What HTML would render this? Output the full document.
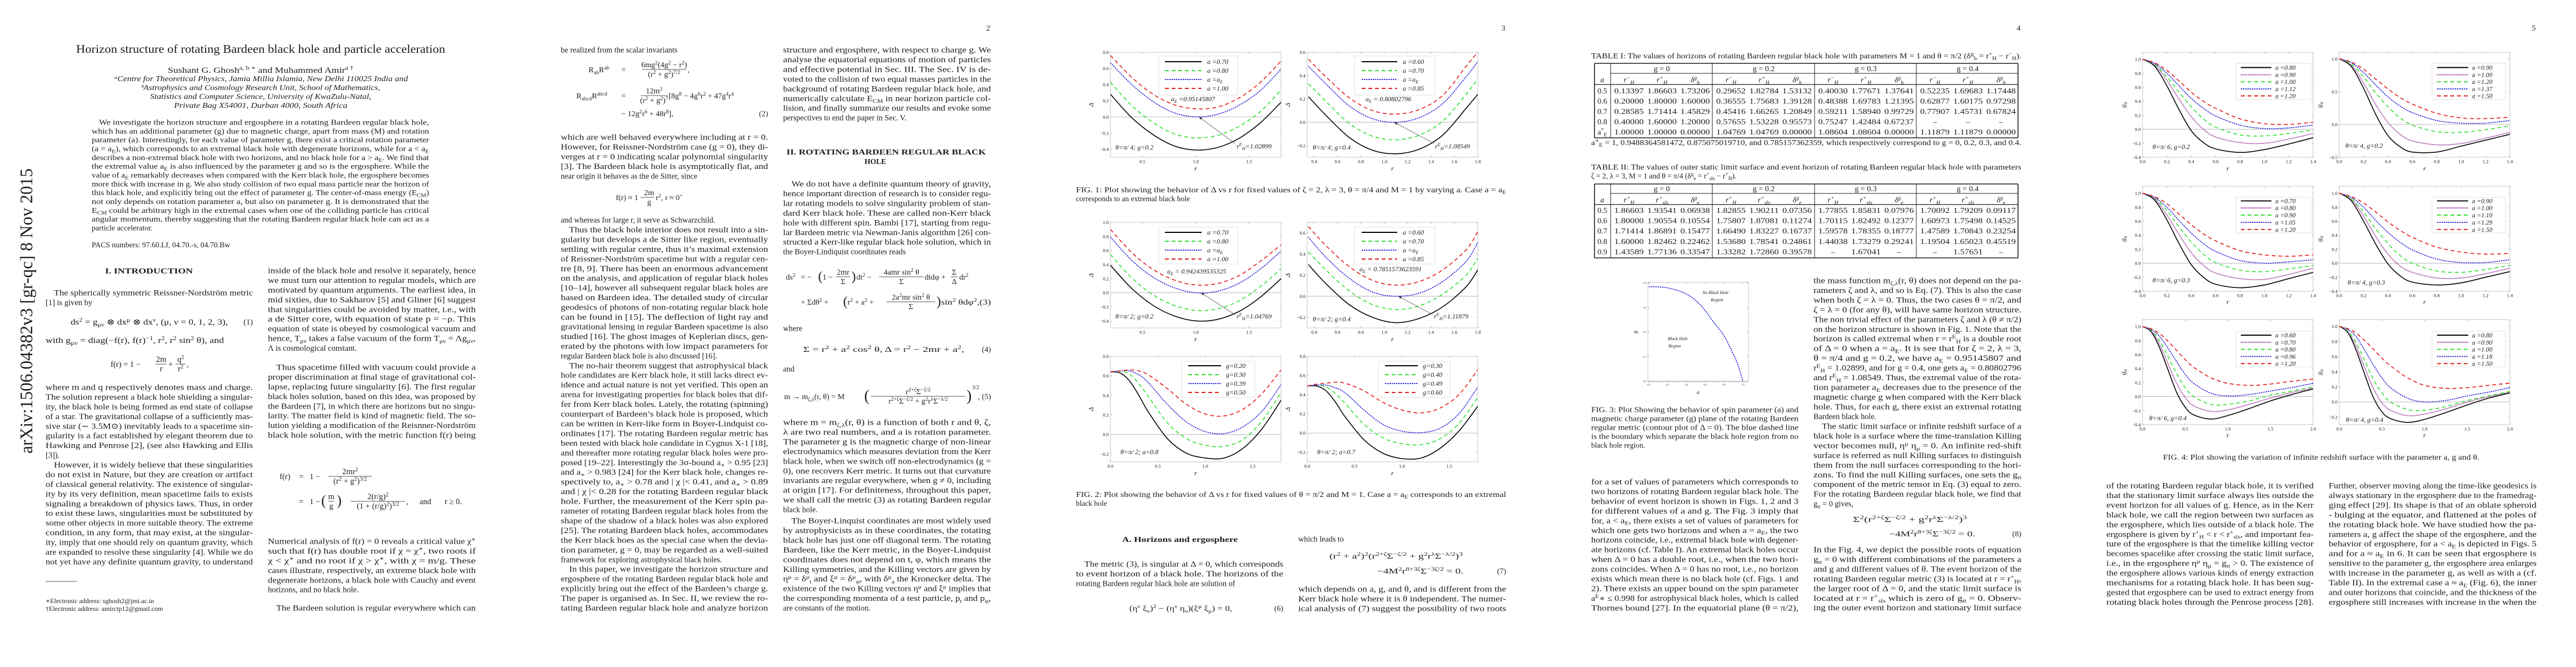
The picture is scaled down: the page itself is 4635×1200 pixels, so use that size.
<!DOCTYPE html>
<html><head><meta charset="utf-8">
<style>
html,body{margin:0;padding:0;background:#fff;}
svg{display:block;}
text{font-family:"Liberation Serif","DejaVu Serif",serif;fill:#1c1c1c;}
</style></head>
<body>
<svg id="root" xmlns="http://www.w3.org/2000/svg" width="4635" height="1200" viewBox="0 0 4635 1200"><rect width="4635" height="1200" fill="#fff"/><defs id="defs"></defs></svg>
<script>
// ---------- chart data ----------
// Fig 1 / Fig 2 (page 3): Delta vs r
const f1a_r = [0.2,0.4,0.6,0.8,1.0,1.2,1.4,1.6,1.8];
const f1a_black = [0.28,-0.01,-0.22,-0.36,-0.41,-0.38,-0.27,-0.08,0.18];
const f1a_green = [0.43,0.14,-0.07,-0.21,-0.26,-0.23,-0.12,0.06,0.33];
const f1a_blue = [0.67,0.40,0.19,0.05,0.00,0.03,0.14,0.32,0.59];
const f1a_red = [0.76,0.49,0.28,0.15,0.10,0.12,0.23,0.42,0.69];
const f1a_labels = ['a =0.70','a =0.80','a =a_{E}','a =1.00'];

const f1b_r = [0.35,0.5,0.7,0.9,1.1,1.3,1.5,1.7,1.8];
const f1b_black = [0.22,0.06,-0.13,-0.24,-0.27,-0.23,-0.11,0.12,0.24];
const f1b_green = [0.33,0.18,-0.01,-0.12,-0.15,-0.11,0.01,0.24,0.37];
const f1b_blue = [0.48,0.33,0.14,0.03,0.00,0.04,0.16,0.39,0.52];
const f1b_red = [0.54,0.39,0.21,0.10,0.07,0.11,0.23,0.48,0.60];
const f1b_labels = ['a =0.60','a =0.70','a =a_{E}','a =0.85'];

const f2a_r = [0.2,0.4,0.6,0.8,1.0,1.2,1.4,1.6,1.8];
const f2a_black = [0.39,0.06,-0.18,-0.33,-0.40,-0.38,-0.27,-0.07,0.20];
const f2a_green = [0.54,0.21,-0.03,-0.18,-0.25,-0.23,-0.12,0.08,0.34];
const f2a_blue = [0.79,0.46,0.22,0.07,0.00,0.02,0.13,0.33,0.59];
const f2a_red = [0.90,0.57,0.33,0.18,0.11,0.13,0.24,0.44,0.68];
const f2a_labels = ['a =0.70','a =0.80','a =a_{E}','a =1.00'];

const f2b_r = [0.35,0.5,0.7,0.9,1.1,1.3,1.5,1.7,1.8];
const f2b_black = [0.30,0.12,-0.08,-0.20,-0.25,-0.21,-0.10,0.09,0.25];
const f2b_green = [0.42,0.25,0.05,-0.08,-0.125,-0.09,0.02,0.20,0.36];
const f2b_blue = [0.56,0.37,0.17,0.04,0.00,0.03,0.14,0.33,0.51];
const f2b_red = [0.66,0.48,0.28,0.15,0.105,0.14,0.25,0.44,0.61];
const f2b_labels = ['a =0.60','a =0.70','a =a_{E}','a =0.85'];

const f2c_r = [0,0.1,0.2,0.3,0.4,0.6,0.8,1.0,1.2,1.4,1.6,1.8];
const f2c_black = [0.64,0.63,0.55,0.40,0.23,-0.04,-0.19,-0.24,-0.24,-0.14,0.06,0.35];
const f2c_green = [0.64,0.65,0.62,0.52,0.39,0.12,-0.04,-0.11,-0.12,-0.05,0.14,0.43];
const f2c_blue = [0.64,0.65,0.65,0.61,0.53,0.31,0.13,0.03,0.01,0.08,0.24,0.51];
const f2c_red = [0.64,0.65,0.66,0.65,0.61,0.47,0.31,0.21,0.19,0.26,0.42,0.66];
const f2c_labels = ['g=0.20','g=0.30','g=0.39','g=0.50'];

const f2d_r = [0,0.1,0.2,0.3,0.4,0.6,0.8,1.0,1.2,1.4,1.6,1.8];
const f2d_black = [0.49,0.49,0.44,0.32,0.17,-0.07,-0.21,-0.265,-0.26,-0.16,0.02,0.28];
const f2d_green = [0.49,0.50,0.48,0.41,0.31,0.09,-0.05,-0.11,-0.12,-0.06,0.10,0.37];
const f2d_blue = [0.49,0.50,0.50,0.47,0.42,0.24,0.09,0.02,0.005,0.05,0.20,0.48];
const f2d_red = [0.49,0.51,0.52,0.53,0.52,0.44,0.32,0.24,0.21,0.26,0.40,0.66];
const f2d_labels = ['g=0.30','g=0.40','g=0.49','g=0.60'];

// Fig 3 (page 4): boundary curve g vs a
const f3_a = [0,0.2,0.4,0.55,0.7,0.8,0.9,0.95,1.0];
const f3_g = [0.77,0.76,0.71,0.62,0.47,0.37,0.22,0.13,0.0];

// Fig 4 (page 5): g_tt vs r
const f4_r14 = [0,0.1,0.2,0.3,0.4,0.5,0.6,0.8,1.0,1.2,1.4];
const f4_r20 = [0,0.1,0.2,0.3,0.4,0.5,0.6,0.8,1.0,1.25,1.5,1.75,2.0];
const f4a_black = [1.0,0.90,0.62,0.28,-0.02,-0.19,-0.28,-0.33,-0.29,-0.21,-0.12];
const f4a_purple = [1.0,0.92,0.70,0.43,0.18,0.00,-0.11,-0.19,-0.20,-0.14,-0.06];
const f4a_green = [1.0,0.93,0.75,0.53,0.32,0.15,0.03,-0.08,-0.095,-0.06,-0.01];
const f4a_blue = [1.0,0.94,0.80,0.62,0.44,0.30,0.19,0.06,0.01,0.02,0.06];
const f4a_red = [1.0,0.95,0.84,0.69,0.53,0.40,0.30,0.15,0.08,0.07,0.10];
const f4a_labels = ['a =0.80','a =0.90','a =1.00','a =1.12','a =1.20'];
const f4b_black = [1.0,0.88,0.55,0.15,-0.17,-0.34,-0.42,-0.42,-0.33,-0.24,-0.15];
const f4b_purple = [1.0,0.90,0.63,0.30,0.03,-0.15,-0.25,-0.31,-0.29,-0.21,-0.12];
const f4b_green = [1.0,0.92,0.72,0.48,0.27,0.10,-0.01,-0.11,-0.12,-0.08,-0.02];
const f4b_blue = [1.0,0.94,0.79,0.60,0.42,0.28,0.18,0.06,0.02,0.02,0.06];
const f4b_red = [1.0,0.95,0.84,0.69,0.54,0.41,0.31,0.17,0.10,0.09,0.11];
const f4b_labels = ['a =0.90','a =1.00','a =1.20','a =1.37','a =1.50'];
const f4c_black = [1.0,0.90,0.62,0.28,-0.02,-0.20,-0.30,-0.35,-0.31,-0.22,-0.13];
const f4c_purple = [1.0,0.92,0.69,0.41,0.15,-0.03,-0.14,-0.22,-0.23,-0.16,-0.07];
const f4c_green = [1.0,0.93,0.75,0.52,0.30,0.13,0.01,-0.10,-0.12,-0.08,-0.03];
const f4c_blue = [1.0,0.94,0.80,0.61,0.43,0.28,0.17,0.04,0.00,0.02,0.05];
const f4c_red = [1.0,0.95,0.85,0.70,0.55,0.42,0.32,0.18,0.12,0.10,0.12];
const f4c_labels = ['a =0.70','a =0.80','a =0.90','a =1.05','a =1.20'];
const f4d_black = [1.0,0.89,0.60,0.27,-0.01,-0.18,-0.27,-0.31,-0.28,-0.20,-0.12];
const f4d_purple = [1.0,0.91,0.67,0.38,0.13,-0.04,-0.13,-0.21,-0.21,-0.15,-0.07];
const f4d_green = [1.0,0.92,0.73,0.49,0.28,0.11,0.00,-0.11,-0.13,-0.09,-0.03];
const f4d_blue = [1.0,0.94,0.80,0.61,0.44,0.30,0.19,0.06,0.01,0.01,0.05];
const f4d_red = [1.0,0.95,0.86,0.73,0.59,0.47,0.37,0.23,0.16,0.13,0.14];
const f4d_labels = ['a =0.90','a =1.00','a =1.10','a =1.29','a =1.50'];
const f4e_black = [1.0,0.93,0.70,0.38,0.06,-0.15,-0.26,-0.32,-0.27,-0.17,-0.06,0.03,0.11];
const f4e_purple = [1.0,0.94,0.75,0.47,0.19,-0.01,-0.13,-0.21,-0.19,-0.11,-0.02,0.06,0.12];
const f4e_green = [1.0,0.95,0.80,0.57,0.33,0.13,0.00,-0.11,-0.11,-0.06,0.02,0.08,0.14];
const f4e_blue = [1.0,0.96,0.86,0.69,0.50,0.32,0.19,0.05,0.01,0.03,0.08,0.13,0.19];
const f4e_red = [1.0,0.97,0.90,0.79,0.66,0.53,0.42,0.27,0.19,0.16,0.18,0.22,0.25];
const f4e_labels = ['a =0.60','a =0.70','a =0.80','a =0.96','a =1.20'];
const f4f_black = [1.0,0.92,0.68,0.36,0.06,-0.13,-0.22,-0.27,-0.23,-0.14,-0.04,0.05,0.12];
const f4f_purple = [1.0,0.93,0.73,0.45,0.18,-0.01,-0.11,-0.18,-0.16,-0.09,0.00,0.07,0.13];
const f4f_green = [1.0,0.94,0.78,0.54,0.30,0.12,0.00,-0.10,-0.11,-0.06,0.02,0.08,0.14];
const f4f_blue = [1.0,0.96,0.86,0.68,0.49,0.32,0.19,0.05,0.00,0.02,0.08,0.13,0.19];
const f4f_red = [1.0,0.97,0.91,0.81,0.70,0.58,0.48,0.32,0.22,0.18,0.19,0.22,0.25];
const f4f_labels = ['a =0.80','a =0.90','a =1.00','a =1.18','a =1.50'];

// Tables (page 4)
const t1_a = ['0.5','0.6','0.7','0.8','a^{*}_{E}'];
const t1_rows = [
 ['0.13397','1.86603','1.73206','0.29652','1.82784','1.53132','0.40030','1.77671','1.37641','0.52235','1.69683','1.17448'],
 ['0.20000','1.80000','1.60000','0.36555','1.75683','1.39128','0.48388','1.69783','1.21395','0.62877','1.60175','0.97298'],
 ['0.28585','1.71414','1.45829','0.45416','1.66265','1.20849','0.59211','1.58940','0.99729','0.77907','1.45731','0.67824'],
 ['0.40000','1.60000','1.20000','0.57655','1.53228','0.95573','0.75247','1.42484','0.67237','–','–','–'],
 ['1.00000','1.00000','0.00000','1.04769','1.04769','0.00000','1.08604','1.08604','0.00000','1.11879','1.11879','0.00000']];
const t2_a = ['0.5','0.6','0.7','0.8','0.9'];
const t2_rows = [
 ['1.86603','1.93541','0.06938','1.82855','1.90211','0.07356','1.77855','1.85831','0.07976','1.70092','1.79209','0.09117'],
 ['1.80000','1.90554','0.10554','1.75807','1.87081','0.11274','1.70115','1.82492','0.12377','1.60973','1.75498','0.14525'],
 ['1.71414','1.86891','0.15477','1.66490','1.83227','0.16737','1.59578','1.78355','0.18777','1.47589','1.70843','0.23254'],
 ['1.60000','1.82462','0.22462','1.53680','1.78541','0.24861','1.44038','1.73279','0.29241','1.19504','1.65023','0.45519'],
 ['1.43589','1.77136','0.33547','1.33282','1.72860','0.39578','–','1.67041','–','–','1.57651','–']];

// ---------- helpers ----------
const NS='http://www.w3.org/2000/svg';
const root=document.getElementById('root');
const defs=document.getElementById('defs');
function el(tag,parent){const e=document.createElementNS(NS,tag);(parent||root).appendChild(e);return e;}
function setA(e,o){for(const k in o)e.setAttribute(k,o[k]);return e;}
function rich(t,str,fs){
  const segs=[];let i=0,cur='';
  while(i<str.length){const c=str[i];
    if((c==='^'||c==='_')&&str[i+1]==='{'){if(cur){segs.push([cur,0]);cur='';}const j=str.indexOf('}',i);segs.push([str.slice(i+2,j),c==='^'?-1:1]);i=j+1;}
    else{cur+=c;i++;}}
  if(cur)segs.push([cur,0]);
  let off=0;
  for(const [s,m] of segs){const ts=el('tspan',t);const tg=m===-1?-0.36*fs:(m===1?0.24*fs:0);const dy=tg-off;if(dy)ts.setAttribute('dy',dy.toFixed(1));off=tg;if(m)ts.setAttribute('font-size',(fs*0.7).toFixed(1));ts.textContent=s;}
}
function T(x,y,str,o){o=o||{};const t=el('text',o.parent);const fs=o.fs||14;
  setA(t,{x:x,y:y,'font-size':fs});
  if(o.anchor)t.setAttribute('text-anchor',o.anchor);
  if(o.it)t.setAttribute('font-style','italic');
  if(o.bold)t.setAttribute('font-weight','bold');
  if(o.fill)t.setAttribute('fill',o.fill);
  if(o.len){t.setAttribute('textLength',o.len);t.setAttribute('lengthAdjust','spacingAndGlyphs');}
  if(o.tr)t.setAttribute('transform',o.tr);
  if(str.indexOf('^{')>=0||str.indexOf('_{')>=0)rich(t,str,fs);else t.textContent=str;
  
  
  return t;}
function L(x1,y1,x2,y2,o,parent,name){const l=el('line',parent);setA(l,{x1:x1,y1:y1,x2:x2,y2:y2,stroke:(o&&o.c)||'#1c1c1c','stroke-width':(o&&o.w)||1});if(o&&o.d)l.setAttribute('stroke-dasharray',o.d);
  
  
  return l;}
const STEP=17.45;
function para(ox,x0,w,y0,lines,name,fs,step){fs=fs||14.2;step=step||STEP;
  lines.forEach(function(s,i){let x=ox+x0,len=w,str=s,just=true;
    while(str[0]==='>'||str[0]==='~'){if(str[0]==='>'){x+=15;len-=15;}else just=false;str=str.slice(1);}
    T(x,y0+i*step+4.5,str,{fs:fs,len:just?len:null,name:name});});}
function frac(cx,y,num,den,fs,w,name){fs=fs||14;
  T(cx,y-4,num,{anchor:'middle',fs:fs,name:name+'-numerator'});
  T(cx,y+13,den,{anchor:'middle',fs:fs,name:name+'-denominator'});
  L(cx-w/2,y,cx+w/2,y,{w:0.8},null,name+'-bar');}
function pageNum(ox,n){T(ox+851,55,String(n),{anchor:'middle',fs:14,name:'page-number-'+n});}
function smooth(p){let d='M'+p[0][0].toFixed(1)+','+p[0][1].toFixed(1);
  for(let i=0;i<p.length-1;i++){const p0=p[Math.max(i-1,0)],p1=p[i],p2=p[i+1],p3=p[Math.min(i+2,p.length-1)];
    const c1=[p1[0]+(p2[0]-p0[0])/6,p1[1]+(p2[1]-p0[1])/6],c2=[p2[0]-(p3[0]-p1[0])/6,p2[1]-(p3[1]-p1[1])/6];
    d+=' C'+c1[0].toFixed(1)+','+c1[1].toFixed(1)+' '+c2[0].toFixed(1)+','+c2[1].toFixed(1)+' '+p2[0].toFixed(1)+','+p2[1].toFixed(1);}
  return d;}
const ST={black:{c:'#000',w:1.6,d:''},green:{c:'#2fe02f',w:1.6,d:'7,5'},blue:{c:'#1414dd',w:1.5,d:'2.5,1.5'},red:{c:'#e61a1a',w:1.6,d:'7,5'},purple:{c:'#8a1a8a',w:1.8,d:'1.3,1.3'}};
function fmt(v){return v.toFixed(1).replace('-','−');}
let clipN=0;
function panel(c){
  const g=el('g');
  
  
  const ox=c.ox,X0=ox+c.box[0],X1=ox+c.box[1],Y0=c.box[2],Y1=c.box[3];
  const sx=v=>X0+(v-c.xd[0])/(c.xd[1]-c.xd[0])*(X1-X0);
  const sy=v=>Y1-(v-c.yd[0])/(c.yd[1]-c.yd[0])*(Y1-Y0);
  const fr=el('rect',g);setA(fr,{x:X0,y:Y0,width:X1-X0,height:Y1-Y0,fill:'none',stroke:'#c4c4c4','stroke-width':1});
  
  
  const tf=c.tfs||8.5;
  c.xt.forEach(v=>{const x=sx(v);L(x,Y1,x,Y1-3,{c:'#999',w:0.7},g,'x-tick');L(x,Y0,x,Y0+3,{c:'#999',w:0.7},g,'x-tick');
    T(x,Y1+tf+2,fmt(v),{anchor:'middle',fs:tf,parent:g,fill:'#333',name:'x-tick-label'});});
  c.yt.forEach(v=>{const y=sy(v);L(X0,y,X0+3,y,{c:'#999',w:0.7},g,'y-tick');L(X1,y,X1-3,y,{c:'#999',w:0.7},g,'y-tick');
    T(X0-3,y+tf*0.35,fmt(v),{anchor:'end',fs:tf,parent:g,fill:'#333',name:'y-tick-label'});});
  if(c.yd[0]<0&&c.yd[1]>0)L(X0,sy(0),X1,sy(0),{c:'#b0b0b0',w:0.9},g,'zero-line');
  const cid='clip'+(clipN++);const cp=el('clipPath',defs);cp.setAttribute('id',cid);
  const cr=el('rect',cp);setA(cr,{x:X0,y:Y0,width:X1-X0,height:Y1-Y0});
  const cg=el('g',g);cg.setAttribute('clip-path','url(#'+cid+')');
  
  
  c.series.forEach((s,k)=>{const st=ST[s.st];const p=el('path',cg);
    setA(p,{d:smooth(s.x.map((v,i)=>[sx(v),sy(s.y[i])])),fill:'none',stroke:st.c,'stroke-width':st.w});
    if(st.d)p.setAttribute('stroke-dasharray',st.d);
    
    });
  if(c.leg){const lg=c.leg;const lb=el('g',g);
    
    
    const r=el('rect',lb);setA(r,{x:ox+lg.bx[0],y:lg.by[0],width:lg.bx[1]-lg.bx[0],height:lg.by[1]-lg.by[0],fill:'#fff',stroke:'#e2e2e2','stroke-width':1});
    lg.ys.forEach((y,i)=>{const st=ST[c.series[i].st];L(ox+lg.lx[0],y,ox+lg.lx[1],y,{c:st.c,w:st.w+0.3,d:st.d},lb,'legend-swatch');
      T(ox+lg.tx,y+4,lg.labels[i],{fs:lg.fs||12,it:true,parent:lb,name:'legend-entry'});});}
  (c.notes||[]).forEach(n=>T(ox+n[0],n[1],n[2],{fs:n[3]||12,it:true,parent:g,name:'plot-annotation'}));
  if(c.arrow){const a=c.arrow;const x1=ox+a[0],y1=a[1],x2=sx(a[2]),y2=sy(a[3]);L(x1,y1,x2,y2,{c:'#555',w:0.8},g,'annotation-arrow');
    const ang=Math.atan2(y2-y1,x2-x1),h=6;const pg=el('polygon',g);
    setA(pg,{points:[[x2,y2],[x2-h*Math.cos(ang-0.35),y2-h*Math.sin(ang-0.35)],[x2-h*Math.cos(ang+0.35),y2-h*Math.sin(ang+0.35)]].map(q=>q[0].toFixed(1)+','+q[1].toFixed(1)).join(' '),fill:'#222'});
    
    }
  if(c.ylab)T(ox+c.ylab[0],(Y0+Y1)/2,c.ylab[1],{fs:c.ylab[2]||12,it:true,anchor:'middle',tr:'rotate(-90 '+(ox+c.ylab[0])+' '+((Y0+Y1)/2)+')',parent:g,name:'y-axis-title'});
  if(c.xlab)T((X0+X1)/2,c.xlab[0],c.xlab[1],{fs:c.xlab[2]||12,it:true,anchor:'middle',parent:g,name:'x-axis-title'});
}
function ser(xs,arr,sts){return arr.map((y,i)=>({x:xs,y:y,st:sts[i]}));}

// ================= PAGE 1 =================
(function(){const ox=0;
T(58,816,'arXiv:1506.04382v3  [gr-qc]  8 Nov 2015',{fs:32,fill:'#9a9a9a',len:513,tr:'rotate(-90 58 816)',name:'arxiv-stamp'});
T(137,95,'Horizon structure of rotating Bardeen black hole and particle acceleration',{fs:21,len:664,name:'paper-title'});
T(302,131,'Sushant G. Ghosh^{a, b ∗} and Muhammed Amir^{a †}',{fs:15,len:334,name:'authors'});
T(205,146,'ᵃCentre for Theoretical Physics, Jamia Millia Islamia, New Delhi 110025 India and',{fs:14,it:true,len:529,name:'affiliation'});
T(254,162,'ᵇAstrophysics and Cosmology Research Unit, School of Mathematics,',{fs:14,it:true,len:430,name:'affiliation'});
T(270,178,'Statistics and Computer Science, University of KwaZulu-Natal,',{fs:14,it:true,len:398,name:'affiliation'});
T(313,194,'Private Bag X54001, Durban 4000, South Africa',{fs:14,it:true,len:312,name:'affiliation'});
const abs=['We investigate the horizon structure and ergosphere in a rotating Bardeen regular black hole,',
'which has an additional parameter (g) due to magnetic charge, apart from mass (M) and rotation',
'parameter (a). Interestingly, for each value of parameter g, there exist a critical rotation parameter',
'(a = a_{E}), which corresponds to an extremal black hole with degenerate horizons, while for a < a_{E}',
'describes a non-extremal black hole with two horizons, and no black hole for a > a_{E}. We find that',
'the extremal value a_{E} is also influenced by the parameter g and so is the ergosphere. While the',
'value of a_{E} remarkably decreases when compared with the Kerr black hole, the ergosphere becomes',
'more thick with increase in g. We also study collision of two equal mass particle near the horizon of',
'this black hole, and explicitly bring out the effect of parameter g. The center-of-mass energy (E_{CM})',
'not only depends on rotation parameter a, but also on parameter g. It is demonstrated that the',
'E_{CM} could be arbitrary high in the extremal cases when one of the colliding particle has critical',
'angular momentum, thereby suggesting that the rotating Bardeen regular black hole can act as a',
'~particle accelerator.'];
abs.forEach((s,i)=>{let x=165,len=607,str=s,j=true;if(i===0){x=178;len=594;}if(str[0]==='~'){j=false;str=str.slice(1);}
  T(x,220+i*15.83+4.5,str,{fs:14,len:j?len:null,name:'abstract-line'});});
T(165,445,'PACS numbers: 97.60.Lf, 04.70.-s, 04.70.Bw',{fs:13.5,len:249,name:'pacs-numbers'});
T(189,492,'I.    INTRODUCTION',{fs:14,bold:true,len:158,name:'section-heading'});
para(ox,82,373,527,['>The spherically symmetric Reissner-Nordström metric','~[1] is given by'],'body-text',14.5,17.44);
T(127,584,'ds^{2} = g_{μν} ⊗ dx^{μ} ⊗ dx^{ν},    (μ, ν = 0, 1, 2, 3),',{fs:14.5,len:283,name:'equation-1'});
T(455,584,'(1)',{fs:14.5,anchor:'end',name:'equation-number'});
T(82,617,'with g_{μν} = diag(−f(r), f(r)^{−1}, r^{2}, r^{2} sin^{2} θ), and',{fs:14.5,len:321,name:'body-text'});
T(199,660,'f(r) = 1 −',{fs:14.5,name:'equation'});frac(290,655,'2m','r',14.5,20,'eq-frac');
T(303,660,'+',{fs:14.5,name:'equation'});frac(325,655,'q^{2}','r^{2}',14.5,18,'eq-frac');T(336,660,',',{fs:14.5,name:'equation'});
para(ox,82,373,697,['where m and q respectively denotes mass and charge.','The solution represent a black hole shielding a singular-','ity, the black hole is being formed as end state of collapse','of a star. The gravitational collapse of a sufficiently mas-','sive star (∼ 3.5M⊙) inevitably leads to a spacetime sin-','gularity is a fact established by elegant theorem due to','Hawking and Penrose [2], (see also Hawking and Ellis','~[3]).','>However, it is widely believe that these singularities','do not exist in Nature, but they are creation or artifact','of classical general relativity. The existence of singular-','ity by its very definition, mean spacetime fails to exists','signaling a breakdown of physics laws. Thus, in order','to exist these laws, singularities must be substituted by','some other objects in more suitable theory. The extreme','condition, in any form, that may exist, at the singular-','ity, imply that one should rely on quantum gravity, which','are expanded to resolve these singularity [4]. While we do','not yet have any definite quantum gravity, to understand'],'body-text',14.5,17.44);
L(82,1046,138,1046,{w:0.8},null,'footnote-rule');
T(82,1085,'∗Electronic address: sghosh2@jmi.ac.in',{fs:12,name:'footnote'});
T(82,1099,'†Electronic address: amirctp12@gmail.com',{fs:12,name:'footnote'});
para(ox,482,374,487,['inside of the black hole and resolve it separately, hence','we must turn our attention to regular models, which are','motivated by quantum arguments. The earliest idea, in','mid sixties, due to Sakharov [5] and Gliner [6] suggest','that singularities could be avoided by matter, i.e., with','a de Sitter core, with equation of state p = −ρ. This','equation of state is obeyed by cosmological vacuum and','hence, T_{μν} takes a false vacuum of the form T_{μν} = Λg_{μν},','~Λ is cosmological constant.'],'body-text',14.5,17.44);
para(ox,482,374,661,['>Thus spacetime filled with vacuum could provide a','proper discrimination at final stage of gravitational col-','lapse, replacing future singularity [6]. The first regular','black holes solution, based on this idea, was proposed by','the Bardeen [7], in which there are horizons but no singu-','larity. The matter field is kind of magnetic field. The so-','lution yielding a modification of the Reisnner-Nordström','black hole solution, with the metric function f(r) being'],'body-text',14.5,17.44);
T(503,862,'f(r)',{fs:14.5,name:'equation'});T(538,862,'=',{fs:14.5,name:'equation'});T(557,862,'1 −',{fs:14.5,name:'equation'});
frac(630,857,'2mr^{2}','(r^{2} + g^{2})^{3/2}',14.5,78,'eq-frac');
T(538,907,'=',{fs:14.5,name:'equation'});T(557,907,'1 −',{fs:14.5,name:'equation'});
T(578,909,'(',{fs:26,name:'equation'});frac(596,902,'m','g',14.5,10,'eq-frac');T(606,909,')',{fs:26,name:'equation'});
frac(680,902,'2(r/g)^{2}','(1 + (r/g)^{2})^{3/2}',14.5,98,'eq-frac');T(731,907,',',{fs:14.5,name:'equation'});
T(755,907,'and',{fs:14.5,name:'equation'});T(800,907,'r ≥ 0.',{fs:14.5,name:'equation'});
para(ox,482,374,974,['Numerical analysis of f(r) = 0 reveals a critical value χ^{∗}','such that f(r) has double root if χ = χ^{∗}, two roots if','χ < χ^{∗} and no root if χ > χ^{∗}, with χ = m/g. These','cases illustrate, respectively, an extreme black hole with','degenerate horizons, a black hole with Cauchy and event','~horizons, and no black hole.'],'body-text',14.5,17.44);
para(ox,482,374,1094,['>The Bardeen solution is regular everywhere which can'],'body-text',14.5,17.44);
})();

// ================= PAGE 2 =================
(function(){const ox=927;pageNum(ox,2);
para(ox,82,373,90,['~be realized from the scalar invariants'],'body-text');
T(ox+132,130,'R_{ab}R^{ab}',{fs:14,name:'equation'});T(ox+191,130,'=',{fs:14,name:'equation'});
frac(ox+268,125,'6mg^{2}(4g^{2} − r^{2})','(r^{2} + g^{2})^{7/2}',14,80,'eq-frac');T(ox+310,130,',',{fs:14,name:'equation'});
T(ox+110,177,'R_{abcd}R^{abcd}',{fs:14,name:'equation'});T(ox+191,177,'=',{fs:14,name:'equation'});
frac(ox+250,172,'12m^{2}','(r^{2} + g^{2})^{7}',14,48,'eq-frac');
T(ox+276,177,'[8g^{8} − 4g^{6}r^{2} + 47g^{4}r^{4}',{fs:14,name:'equation'});
T(ox+191,209,'−  12g^{2}r^{6} + 48r^{8}],',{fs:14,name:'equation'});T(ox+455,209,'(2)',{fs:14,anchor:'end',name:'equation-number'});
para(ox,82,373,247,['which are well behaved everywhere including at r = 0.','However, for Reissner-Nordström case (g = 0), they di-','verges at r = 0 indicating scalar polynomial singularity','[3]. The Bardeen black hole is asymptotically flat, and','~near origin it behaves as the de Sitter, since'],'body-text');
T(ox+181,360,'f(r) ≈ 1 −',{fs:14,name:'equation'});frac(ox+241,355,'2m','g',14,18,'eq-frac');T(ox+253,360,'r^{2},   r ≈ 0^{+}',{fs:14,name:'equation'});
para(ox,82,373,396,['~and whereas for large r, it serve as Schwarzchild.','>Thus the black hole interior does not result into a sin-','gularity but develops a de Sitter like region, eventually','settling with regular centre, thus it’s maximal extension','of Reissner-Nordström spacetime but with a regular cen-','tre [8, 9]. There has been an enormous advancement','on the analysis, and application of regular black holes','[10–14], however all subsequent regular black holes are','based on Bardeen idea. The detailed study of circular','geodesics of photons of non-rotating regular black hole','can be found in [15]. The deflection of light ray and','gravitational lensing in regular Bardeen spacetime is also','studied [16]. The ghost images of Keplerian discs, gen-','erated by the photons with low impact parameters for','~regular Bardeen black hole is also discussed [16].','>The no-hair theorem suggest that astrophysical black','hole candidates are Kerr black hole, it still lacks direct ev-','idence and actual nature is not yet verified. This open an','arena for investigating properties for black holes that dif-','fer from Kerr black holes. Lately, the rotating (spinning)','counterpart of Bardeen’s black hole is proposed, which','can be written in Kerr-like form in Boyer-Lindquist co-','ordinates [17]. The rotating Bardeen regular metric has','been tested with black hole candidate in Cygnus X-1 [18],','and thereafter more rotating regular black holes were pro-','posed [19–22]. Interestingly the 3σ-bound a_{∗} > 0.95 [23]','and a_{∗} > 0.983 [24] for the Kerr black hole, changes re-','spectively to, a_{∗} > 0.78 and | χ |< 0.41, and a_{∗} > 0.89','and | χ |< 0.28 for the rotating Bardeen regular black','hole. Further, the measurement of the Kerr spin pa-','rameter of rotating Bardeen regular black holes from the','shape of the shadow of a black holes was also explored','[25]. The rotating Bardeen black holes, accommodates','the Kerr black hoes as the special case when the devia-','tion parameter, g = 0, may be regarded as a well-suited','~framework for exploring astrophysical black holes.','>In this paper, we investigate the horizon structure and','ergosphere of the rotating Bardeen regular black hole and','explicitly bring out the effect of the Bardeen’s charge g.','The paper is organised as. In Sec. II, we review the ro-','tating Bardeen regular black hole and analyze horizon'],'body-text');
para(ox,482,374,90,['structure and ergosphere, with respect to charge g. We','analyse the equatorial equations of motion of particles','and effective potential in Sec. III. The Sec. IV is de-','voted to the collision of two equal masses particles in the','background of rotating Bardeen regular black hole, and','numerically calculate E_{CM} in near horizon particle col-','lision, and finally summarize our results and evoke some','~perspectives to end the paper in Sec. V.'],'body-text');
T(ox+488,278,'II.   ROTATING BARDEEN REGULAR BLACK',{fs:13.5,bold:true,len:359,name:'section-heading'});
T(ox+648,295,'HOLE',{fs:13.5,bold:true,anchor:'middle',name:'section-heading'});
para(ox,482,374,331,['>We do not have a definite quantum theory of gravity,','hence important direction of research is to consider regu-','lar rotating models to solve singularity problem of stan-','dard Kerr black hole. These are called non-Kerr black','hole with different spin. Bambi [17], starting from regu-','lar Bardeen metric via Newman-Janis algorithm [26] con-','structed a Kerr-like regular black hole solution, which in','~the Boyer-Lindiquist coordinates reads'],'body-text');
T(ox+487,503,'ds^{2}',{fs:14,name:'equation'});T(ox+514,503,'=  −',{fs:14,name:'equation'});
T(ox+545,505,'(',{fs:24,name:'equation'});T(ox+553,503,'1 −',{fs:14,name:'equation'});frac(ox+590,498,'2mr','Σ',14,26,'eq-frac');
T(ox+605,505,')',{fs:24,name:'equation'});T(ox+614,503,'dt^{2} −',{fs:14,name:'equation'});
frac(ox+695,498,'4amr sin^{2} θ','Σ',14,80,'eq-frac');T(ox+737,503,'dtdφ +',{fs:14,name:'equation'});
frac(ox+790,498,'Σ','Δ',14,12,'eq-frac');T(ox+799,503,'dr^{2}',{fs:14,name:'equation'});
T(ox+514,548,'+  Σdθ^{2} +',{fs:14,name:'equation'});T(ox+590,550,'(',{fs:24,name:'equation'});
T(ox+598,548,'r^{2} + a^{2} +',{fs:14,name:'equation'});frac(ox+712,543,'2a^{2}mr sin^{2} θ','Σ',14,88,'eq-frac');
T(ox+758,550,')',{fs:24,name:'equation'});T(ox+766,548,'sin^{2} θdφ^{2},(3)',{fs:14,len:90,name:'equation'});
para(ox,482,374,591,['~where'],'body-text');
T(ox+518,633,'Σ = r^{2} + a^{2} cos^{2} θ,       Δ = r^{2} − 2mr + a^{2},',{fs:14,len:290,name:'equation-4'});T(ox+856,633,'(4)',{fs:14,anchor:'end',name:'equation-number'});
para(ox,482,374,664,['~and'],'body-text');
T(ox+484,718,'m → m_{ζ,λ}(r, θ) = M',{fs:14,name:'equation'});T(ox+628,721,'(',{fs:28,name:'equation'});
frac(ox+725,713,'r^{2+ζ}Σ^{−ζ/2}','r^{2+ζ}Σ^{−ζ/2} + g^{2}r^{λ}Σ^{−λ/2}',14,170,'eq-frac');
T(ox+812,721,')',{fs:28,name:'equation'});T(ox+822,700,'3/2',{fs:10,name:'equation'});T(ox+856,718,', (5)',{fs:14,anchor:'end',name:'equation-number'});
para(ox,482,374,760,['where m = m_{ζ,λ}(r, θ) is a function of both r and θ, ζ,','λ are two real numbers, and a is rotation parameter.','The parameter g is the magnetic charge of non-linear','electrodynamics which measures deviation from the Kerr','black hole, when we switch off non-electrodynamics (g =','0), one recovers Kerr metric. It turns out that curvature','invariants are regular everywhere, when g ≠ 0, including','at origin [17]. For definiteness, throughout this paper,','we shall call the metric (3) as rotating Bardeen regular','~black hole.'],'body-text');
para(ox,482,374,937,['>The Boyer-Linquist coordinates are most widely used','by astrophysicists as in these coordinates, the rotating','black hole has just one off diagonal term. The rotating','Bardeen, like the Kerr metric, in the Boyer-Lindquist','coordinates does not depend on t, φ, which means the','Killing symmetries, and the Killing vectors are given by','η^{μ} = δ^{μ}_{t} and ξ^{μ} = δ^{μ}_{φ}, with δ^{μ}_{a} the Kronecker delta. The','existence of the two Killing vectors η^{μ} and ξ^{μ} implies that','the corresponding momenta of a test particle, p_{t} and p_{φ},','~are constants of the motion.'],'body-text');
})();

// ================= PAGE 3 =================
(function(){const ox=1854;pageNum(ox,3);
const S4=['black','green','blue','red'];
panel({name:'fig1-left-delta-plot',ox,box:[144,451,94,283],xd:[0.2,1.8],yd:[-0.5,0.8],xt:[0.5,1.0,1.5],yt:[-0.4,-0.2,0,0.2,0.4,0.6,0.8],
 series:ser(f1a_r,[f1a_black,f1a_green,f1a_blue,f1a_red],S4),
 leg:{bx:[231,373],by:[101,171],ys:[111,127,143,159],lx:[242,308],tx:318,labels:f1a_labels},
 notes:[[253,182,'a_{E} =0.95145807'],[153,269,'θ=π/ 4; g=0.2'],[371,267,'r^{E}_{H}=1.02899']],arrow:[368,258,1.03,0],ylab:[113,'Δ'],xlab:[307,'r']});
panel({name:'fig1-right-delta-plot',ox,box:[498,805,94,283],xd:[0.34,1.8],yd:[-0.3,0.6],xt:[0.4,0.6,0.8,1.0,1.2,1.4,1.6,1.8],yt:[-0.2,0,0.2,0.4,0.6],
 series:ser(f1b_r,[f1b_black,f1b_green,f1b_blue,f1b_red],S4),
 leg:{bx:[583,728],by:[101,171],ys:[111,127,143,159],lx:[596,660],tx:670,labels:f1b_labels},
 notes:[[603,182,'a_{E} = 0.80802796'],[508,269,'θ=π/ 4; g=0.4'],[728,267,'r^{E}_{H}=1.08549']],arrow:[726,258,1.085,0],ylab:[467,'Δ'],xlab:[307,'r']});
T(ox+82,346,'FIG. 1: Plot showing the behavior of Δ vs r for fixed values of ζ = 2, λ = 3, θ = π/4 and M = 1 by varying a. Case a = a_{E}',{fs:13.5,len:774,name:'figure-caption'});
T(ox+82,362,'corresponds to an extremal black hole',{fs:13.5,name:'figure-caption'});
panel({name:'fig2-top-left-delta-plot',ox,box:[144,451,400,590],xd:[0.2,1.8],yd:[-0.5,1.0],xt:[0.5,1.0,1.5],yt:[-0.4,-0.2,0,0.2,0.4,0.6,0.8,1.0],
 series:ser(f2a_r,[f2a_black,f2a_green,f2a_blue,f2a_red],S4),
 leg:{bx:[231,373],by:[409,475],ys:[418,434,450,466],lx:[242,308],tx:318,labels:f2a_labels},
 notes:[[246,492,'a_{E} = 0.942439535325'],[153,573,'θ=π/ 2; g=0.2'],[371,573,'r^{E}_{H}=1.04769']],arrow:[368,566,1.05,0],ylab:[113,'Δ'],xlab:[614,'r']});
panel({name:'fig2-top-right-delta-plot',ox,box:[498,805,400,590],xd:[0.34,1.8],yd:[-0.3,0.7],xt:[0.4,0.6,0.8,1.0,1.2,1.4,1.6,1.8],yt:[-0.2,0,0.2,0.4,0.6],
 series:ser(f2b_r,[f2b_black,f2b_green,f2b_blue,f2b_red],S4),
 leg:{bx:[583,728],by:[409,475],ys:[418,434,450,466],lx:[596,660],tx:670,labels:f2b_labels},
 notes:[[592,488,'a_{E} = 0.7851573623591'],[508,578,'θ=π/ 2; g=0.4'],[726,573,'r^{E}_{H}=1.11879']],arrow:[724,566,1.12,0],ylab:[467,'Δ'],xlab:[614,'r']});
panel({name:'fig2-bottom-left-delta-plot',ox,box:[144,451,641,831],xd:[0,1.8],yd:[-0.28,0.8],xt:[0,0.5,1.0,1.5],yt:[-0.2,0,0.2,0.4,0.6,0.8],
 series:ser(f2c_r,[f2c_black,f2c_green,f2c_blue,f2c_red],S4),
 leg:{bx:[272,404],by:[650,715],ys:[658,674,690,706],lx:[284,343],tx:352,labels:f2c_labels},
 notes:[[162,817,'θ=π/ 2; a=0.8']],ylab:[113,'Δ'],xlab:[855,'r']});
panel({name:'fig2-bottom-right-delta-plot',ox,box:[498,805,641,831],xd:[0,1.8],yd:[-0.3,0.8],xt:[0,0.5,1.0,1.5],yt:[-0.2,0,0.2,0.4,0.6,0.8],
 series:ser(f2d_r,[f2d_black,f2d_green,f2d_blue,f2d_red],S4),
 leg:{bx:[626,755],by:[650,715],ys:[658,674,690,706],lx:[638,697],tx:706,labels:f2d_labels},
 notes:[[516,817,'θ=π/ 2; a=0.7']],ylab:[467,'Δ'],xlab:[855,'r']});
T(ox+82,894,'FIG. 2: Plot showing the behavior of Δ vs r for fixed values of θ = π/2 and M = 1. Case a = a_{E} corresponds to an extremal',{fs:13.5,len:774,name:'figure-caption'});
T(ox+82,910,'black hole',{fs:13.5,name:'figure-caption'});
T(ox+165,975,'A.    Horizons and ergosphere',{fs:14,bold:true,len:208,name:'subsection-heading'});
para(ox,82,373,1015,['>The metric (3), is singular at Δ = 0, which corresponds','to event horizon of a black hole. The horizons of the','~rotating Bardeen regular black hole are solution of'],'body-text');
T(ox+178,1099,'(η^{ν} ξ_{ν})^{2} − (η^{ν} η_{ν})(ξ^{μ} ξ_{μ}) = 0,',{fs:14,len:185,name:'equation-6'});T(ox+455,1099,'(6)',{fs:14,anchor:'end',name:'equation-number'});
para(ox,482,374,970,['~which leads to'],'body-text');
T(ox+538,1005,'(r^{2} + a^{2})^{2}(r^{2+ζ}Σ^{−ζ/2} + g^{2}r^{λ}Σ^{−λ/2})^{3}',{fs:14,len:240,name:'equation-7'});
T(ox+624,1032,'−4M^{2}r^{8+3ζ}Σ^{−3ζ/2} = 0.',{fs:14,len:155,name:'equation-7'});T(ox+856,1032,'(7)',{fs:14,anchor:'end',name:'equation-number'});
para(ox,482,374,1060,['which depends on a, g, and θ, and is different from the','Kerr black hole where it is θ independent. The numer-','ical analysis of (7) suggest the possibility of two roots'],'body-text');
})();

// ================= PAGE 4 =================
(function(){const ox=2781;pageNum(ox,4);
function table(name,yTop,yG,yL1,yS,yL2,y0,dy,yBot,subs,aCol,rows){
  const g=el('g');
  
  
  L(ox+88,yTop,ox+850,yTop,{w:1.6},g,'table-border');L(ox+88,yBot,ox+850,yBot,{w:1.6},g,'table-border');
  L(ox+88,yL2,ox+850,yL2,{w:1.3},g,'table-rule');L(ox+117,yL1,ox+850,yL1,{w:1},g,'table-rule');
  [88,850].forEach(x=>L(ox+x,yTop,ox+x,yBot,{w:1.6},g,'table-border'));
  [117,300,484,667].forEach(x=>L(ox+x,yTop,ox+x,yBot,{w:1},g,'table-rule'));
  ['g = 0','g = 0.2','g = 0.3','g = 0.4'].forEach((s,k)=>T(ox+209+183.5*k,yG+5,s,{fs:14,anchor:'middle',parent:g,name:'table-group-header'}));
  T(ox+102,yS+5,'a',{fs:14,it:true,anchor:'middle',parent:g,name:'table-column-header'});
  for(let k=0;k<4;k++)subs.forEach((s,j)=>T(ox+150+183.5*k+59.5*j,yS+5,s,{fs:14,it:true,anchor:'middle',parent:g,name:'table-column-header'}));
  rows.forEach((r,i)=>{const y=y0+i*dy+5;T(ox+102,y,aCol[i],{fs:14,anchor:'middle',parent:g,name:'table-row-label'});
    r.forEach((v,j)=>{const k=Math.floor(j/3),jj=j%3;T(ox+150+183.5*k+59.5*jj,y,v,{fs:14,anchor:'middle',len:v.length>2?53:null,parent:g,name:'table-cell'});});});
}
T(ox+82,105,'TABLE I: The values of horizons of rotating Bardeen regular black hole with parameters M = 1 and θ = π/2 (δ^{g}_{h} = r^{+}_{H} − r^{−}_{H}).',{fs:13.5,len:774,name:'table-caption'});
table('table-1-horizons',114,123,132,143,152,163,18.5,248,['r^{−}_{H}','r^{+}_{H}','δ^{g}_{h}'],t1_a,t1_rows);
T(ox+82,261,'a^{∗}_{E} = 1, 0.9488364581472, 0.875075019710, and 0.785157362359, which respectively correspond to g = 0, 0.2, 0.3, and 0.4.',{fs:13.5,len:774,name:'table-footnote'});
T(ox+82,305,'TABLE II: The values of outer static limit surface and event horizon of rotating Bardeen regular black hole with parameters',{fs:13.5,len:774,name:'table-caption'});
T(ox+82,321,'ζ = 2, λ = 3, M = 1 and θ = π/4 (δ^{g}_{e} = r^{+}_{sls} − r^{+}_{H}).',{fs:13.5,name:'table-caption'});
table('table-2-static-limit',331,339,348,359,368,378,18.6,464,['r^{+}_{H}','r^{+}_{sls}','δ^{g}_{e}'],t2_a,t2_rows);
panel({name:'fig3-spin-charge-plane',ox,box:[184,365,508,687],xd:[-0.01,1.06],yd:[-0.005,0.805],xt:[0,0.2,0.4,0.6,0.8,1.0],yt:[0,0.2,0.4,0.6,0.8],tfs:4.5,
 series:[{x:f3_a,y:f3_g,st:'blue'}],
 notes:[[282,529,'No Black Hole',8],[297,542,'Region',8],[220,612,'Black Hole',8],[221,625,'Region',8]],ylab:[164,'g',10],xlab:[709,'a',10]});
const cap=['FIG. 3: Plot Showing the behavior of spin parameter (a) and','magnetic charge parameter (g) plane of the rotating Bardeen','regular metric (contour plot of Δ = 0). The blue dashed line','is the boundary which separate the black hole region from no','~black hole region.'];
cap.forEach((s,i)=>{let j=true,str=s;if(str[0]==='~'){j=false;str=str.slice(1);}T(ox+82,737+i*16+4.5,str,{fs:13.5,len:j?373:null,name:'figure-caption'});});
para(ox,82,373,867,['for a set of values of parameters which corresponds to','two horizons of rotating Bardeen regular black hole. The','behavior of event horizon is shown in Figs. 1, 2 and 3','for different values of a and g. The Fig. 3 imply that','for, a < a_{E}, there exists a set of values of parameters for','which one gets two horizons and when a = a_{E}, the two','horizons coincide, i.e., extremal black hole with degener-','ate horizons (cf. Table I). An extremal black holes occur','when Δ = 0 has a double root, i.e., when the two hori-','zons coincides. When Δ = 0 has no root, i.e., no horizon','exists which mean there is no black hole (cf. Figs. 1 and','2). There exists an upper bound on the spin parameter','a^{E}∗ ≤ 0.998 for astrophysical black holes, which is called','Thornes bound [27]. In the equatorial plane (θ = π/2),'],'body-text');
para(ox,482,374,505,['the mass function m_{ζ,λ}(r, θ) does not depend on the pa-','rameters ζ and λ, and so is Eq. (7). This is also the case','when both ζ = λ = 0. Thus, the two cases θ = π/2, and','ζ = λ = 0 (for any θ), will have same horizon structure.','The non trivial effect of the parameters ζ and λ (θ ≠ π/2)','on the horizon structure is shown in Fig. 1. Note that the','horizon is called extremal when r = r^{E}_{H} is a double root','of Δ = 0 when a = a_{E}. It is see that for ζ = 2, λ = 3,','θ = π/4 and g = 0.2, we have a_{E} = 0.95145807 and','r^{E}_{H} = 1.02899, and for g = 0.4, one gets a_{E} = 0.80802796','and r^{E}_{H} = 1.08549. Thus, the extremal value of the rota-','tion parameter a_{E} decreases due to the presence of the','magnetic charge g when compared with the Kerr black','hole. Thus, for each g, there exist an extremal rotating','~Bardeen black hole.'],'body-text');
para(ox,482,374,767,['>The static limit surface or infinite redshift surface of a','black hole is a surface where the time-translation Killing','vector becomes null, η^{μ} η_{μ} = 0. An infinite red-shift','surface is referred as null Killing surfaces to distinguish','them from the null surfaces corresponding to the hori-','zons. To find the null Killing surfaces, one sets the g_{tt}','component of the metric tensor in Eq. (3) equal to zero.','For the rotating Bardeen regular black hole, we find that','~g_{tt} = 0 gives,'],'body-text');
T(ox+553,939,'Σ^{2}(r^{2+ζ}Σ^{−ζ/2} + g^{2}r^{λ}Σ^{−λ/2})^{3}',{fs:14,len:205,name:'equation-8'});
T(ox+618,965,'−4M^{2}r^{8+3ζ}Σ^{−3ζ/2} = 0.',{fs:14,len:155,name:'equation-8'});T(ox+856,965,'(8)',{fs:14,anchor:'end',name:'equation-number'});
para(ox,482,374,989,['In the Fig. 4, we depict the possible roots of equation','g_{tt} = 0 with different combinations of the parameters a','and g and different values of θ. The event horizon of the','rotating Bardeen regular metric (3) is located at r = r^{+}_{H},','the larger root of Δ = 0, and the static limit surface is','located at r = r^{+}_{sls} which is zero of g_{tt} = 0. Observ-','ing the outer event horizon and stationary limit surface'],'body-text');
})();

// ================= PAGE 5 =================
(function(){const ox=3708;pageNum(ox,5);
const S5=['black','purple','green','blue','red'];
const t14=[0,0.2,0.4,0.6,0.8,1.0,1.2,1.4],t20=[0,0.5,1.0,1.5,2.0];
const yA=[-0.4,-0.2,0,0.2,0.4,0.6,0.8,1.0];
const lgL=(by,ys,labels)=>({bx:[315,452],by:by,ys:ys,lx:[324,379],tx:386,labels:labels,fs:11.5});
const lgR=(by,ys,labels)=>({bx:[668,800],by:by,ys:ys,lx:[677,733],tx:740,labels:labels,fs:11.5});
const ys1=[121.5,134.5,147.2,160,172.5],ys2=[361.4,374.2,387,400,412.8],ys3=[603,615.8,628.6,641.4,654.2];
panel({name:'fig4-a-gtt-plot',ox,box:[147,454,94,283],xd:[0,1.4],yd:[-0.4,1.1],xt:t14,yt:yA,
 series:ser(f4_r14,[f4a_black,f4a_purple,f4a_green,f4a_blue,f4a_red],S5),leg:lgL([114,179],ys1,f4a_labels),
 notes:[[165,268,'θ=π/ 6,  g=0.2']],ylab:[116,'g_{tt}'],xlab:[307,'r']});
panel({name:'fig4-b-gtt-plot',ox,box:[501,808,94,283],xd:[0,1.4],yd:[-0.5,1.1],xt:t14,yt:[-0.5,0,0.5,1.0],
 series:ser(f4_r14,[f4b_black,f4b_purple,f4b_green,f4b_blue,f4b_red],S5),leg:lgR([114,179],ys1,f4b_labels),
 notes:[[512,266,'θ=π/ 4,  g=0.2']],ylab:[469,'g_{tt}'],xlab:[307,'r']});
panel({name:'fig4-c-gtt-plot',ox,box:[147,454,335,524],xd:[0,1.4],yd:[-0.4,1.1],xt:t14,yt:yA,
 series:ser(f4_r14,[f4c_black,f4c_purple,f4c_green,f4c_blue,f4c_red],S5),leg:lgL([355,419],ys2,f4c_labels),
 notes:[[165,508,'θ=π/ 6,  g=0.3']],ylab:[116,'g_{tt}'],xlab:[547,'r']});
panel({name:'fig4-d-gtt-plot',ox,box:[501,808,335,524],xd:[0,1.4],yd:[-0.4,1.1],xt:t14,yt:yA,
 series:ser(f4_r14,[f4d_black,f4d_purple,f4d_green,f4d_blue,f4d_red],S5),leg:lgR([355,419],ys2,f4d_labels),
 notes:[[516,512,'θ=π/ 4,  g=0.3']],ylab:[469,'g_{tt}'],xlab:[547,'r']});
panel({name:'fig4-e-gtt-plot',ox,box:[147,454,575,764],xd:[0,2.0],yd:[-0.4,1.1],xt:t20,yt:yA,
 series:ser(f4_r20,[f4e_black,f4e_purple,f4e_green,f4e_blue,f4e_red],S5),leg:lgL([596,660],ys3,f4e_labels),
 notes:[[159,756,'θ=π/ 6,  g=0.4']],ylab:[116,'g_{tt}'],xlab:[787,'r']});
panel({name:'fig4-f-gtt-plot',ox,box:[501,808,575,764],xd:[0,2.0],yd:[-0.3,1.09],xt:t20,yt:[-0.2,0,0.2,0.4,0.6,0.8,1.0],
 series:ser(f4_r20,[f4f_black,f4f_purple,f4f_green,f4f_blue,f4f_red],S5),leg:lgR([596,660],ys3,f4f_labels),
 notes:[[513,759,'θ=π/ 4,  g=0.4']],ylab:[469,'g_{tt}'],xlab:[787,'r']});
T(ox+184,827,'FIG. 4: Plot showing the variation of infinite redshift surface with the parameter a, g and θ.',{fs:13.5,len:569,name:'figure-caption'});
para(ox,82,373,874,['of the rotating Bardeen regular black hole, it is verified','that the stationary limit surface always lies outside the','event horizon for all values of g. Hence, as in the Kerr','black hole, we call the region between two surfaces as','the ergosphere, which lies outside of a black hole. The','ergosphere is given by r^{+}_{H} < r < r^{+}_{sls}, and important fea-','ture of the ergosphere is that the timelike killing vector','becomes spacelike after crossing the static limit surface,','i.e., in the ergosphere η^{μ} η_{μ} = g_{tt} > 0. The existence of','the ergosphere allows various kinds of energy extraction','mechanisms for a rotating black hole. It has been sug-','gested that ergosphere can be used to extract energy from','rotating black holes through the Penrose process [28].'],'body-text');
para(ox,482,374,874,['Further, observer moving along the time-like geodesics is','always stationary in the ergosphere due to the framedrag-','ging effect [29]. Its shape is that of an oblate spheroid','- bulging at the equator, and flattened at the poles of','the rotating black hole. We have studied how the pa-','rameters a, g affect the shape of the ergosphere, and the','behavior of ergosphere, for a < a_{E} is depicted in Figs. 5','and for a ≈ a_{E} in  6. It can be seen that ergosphere is','sensitive to the parameter g, the ergosphere area enlarges','with increase in the parameter g, as well as with a (cf.','Table II). In the extremal case a ≈ a_{E} (Fig. 6), the inner','and outer horizons that coincide, and the thickness of the','ergosphere still increases with increase in the when the'],'body-text');
})();
</script>
</body></html>
